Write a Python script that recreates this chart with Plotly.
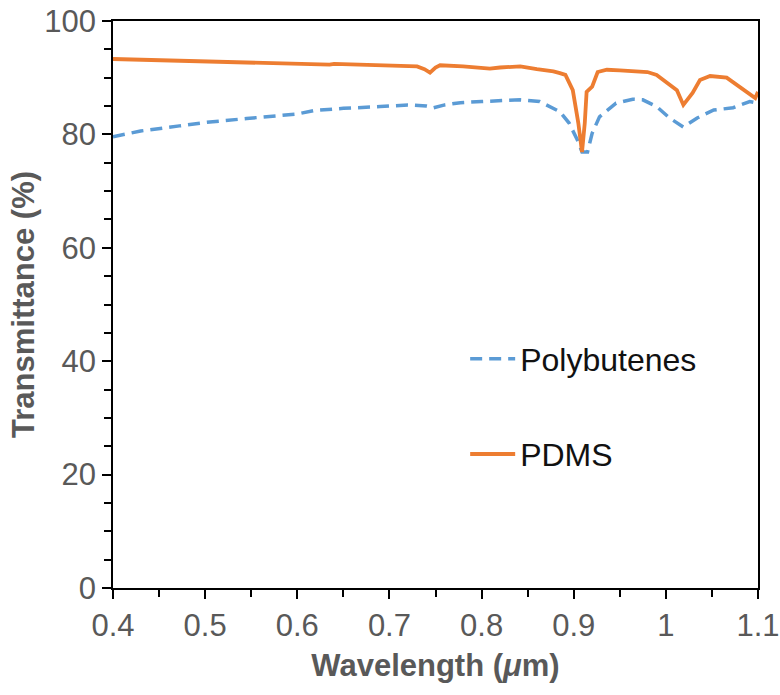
import plotly.graph_objects as go

# Data
pdms_wl = [0.400, 0.450, 0.500, 0.550, 0.600, 0.635, 0.640, 0.650, 0.700, 0.730, 0.738, 0.744,
           0.750, 0.755, 0.780, 0.800, 0.809, 0.820, 0.842, 0.860, 0.870, 0.878, 0.885, 0.891,
           0.899, 0.905, 0.909, 0.912, 0.914, 0.920, 0.926, 0.936, 0.950, 0.964, 0.980, 0.990,
           1.001, 1.012, 1.019, 1.029, 1.037, 1.048, 1.066, 1.080, 1.091, 1.097, 1.100]
pdms_t = [93.3, 93.1, 92.9, 92.7, 92.5, 92.3, 92.45, 92.4, 92.2, 92.0, 91.5, 90.9,
          91.8, 92.2, 92.0, 91.8, 91.6, 91.8, 92.0, 91.5, 91.3, 91.1, 90.8, 90.5,
          87.8, 82.0, 76.9, 82.0, 87.5, 88.4, 91.0, 91.4, 91.3, 91.2, 91.0, 90.5,
          89.2, 87.8, 85.2, 87.3, 89.6, 90.3, 90.0, 88.4, 87.0, 86.4, 87.5]

pb_wl = [0.400, 0.430, 0.472, 0.500, 0.545, 0.600, 0.618, 0.650, 0.690, 0.720, 0.740, 0.748,
         0.760, 0.777, 0.800, 0.842, 0.863, 0.885, 0.895, 0.904, 0.909, 0.915, 0.920, 0.928,
         0.946, 0.964, 0.975, 0.990, 1.004, 1.019, 1.034, 1.052, 1.073, 1.091, 1.100]
pb_t = [79.6, 80.6, 81.5, 82.1, 82.8, 83.6, 84.2, 84.6, 84.9, 85.2, 85.0, 84.7,
        85.2, 85.6, 85.8, 86.1, 85.8, 84.0, 82.0, 79.0, 76.9, 76.9, 80.2, 83.1,
        85.5, 86.2, 86.1, 84.9, 82.9, 81.3, 82.9, 84.3, 84.7, 85.8, 85.5]

ORANGE = "#ED7D31"
BLUE = "#5B9BD5"
GREY = "#595959"
FONT = "Liberation Sans, Arial, sans-serif"

fig = go.Figure()
fig.add_trace(go.Scatter(x=pb_wl, y=pb_t, mode="lines", name="Polybutenes",
                         line=dict(color=BLUE, width=3.5, dash="12px,7px"),
                         legend="legend", showlegend=True))
fig.add_trace(go.Scatter(x=pdms_wl, y=pdms_t, mode="lines", name="PDMS",
                         line=dict(color=ORANGE, width=3.8),
                         legend="legend2", showlegend=True))

axis_common = dict(showgrid=False, zeroline=False, showline=True, linecolor="#000000",
                   linewidth=1.5, mirror=True, ticks="outside", ticklen=9, tickwidth=1.5,
                   tickcolor="#000000", automargin=False,
                   tickfont=dict(family=FONT, size=31, color=GREY))

legend_common = dict(xanchor="left", yanchor="middle", itemwidth=45,
                     bgcolor="rgba(0,0,0,0)",
                     font=dict(family=FONT, size=32, color="#111111"))

fig.update_layout(
    width=780, height=695,
    margin=dict(l=113, r=22, t=21, b=107),
    paper_bgcolor="white", plot_bgcolor="white",
    showlegend=True,
    xaxis=dict(range=[0.4, 1.1], dtick=0.1, tick0=0.4,
               minor=dict(dtick=0.05, ticks="outside", ticklen=7, tickwidth=1.5, tickcolor="#000000"),
               title=dict(text="Wavelength (<i>μ</i>m)", standoff=12,
                          font=dict(family=FONT, size=31, color=GREY, weight="bold")),
               **axis_common),
    yaxis=dict(range=[0, 100], dtick=20, tick0=0,
               minor=dict(dtick=5, ticks="outside", ticklen=7, tickwidth=1.5, tickcolor="#000000"),
               title=dict(text="Transmittance (%)", standoff=0,
                          font=dict(family=FONT, size=31, color=GREY, weight="bold")),
               **axis_common),
    legend=dict(x=0.546, y=0.404, **legend_common),
    legend2=dict(x=0.546, y=0.236, **legend_common),
)

fig.write_html("out.html")
